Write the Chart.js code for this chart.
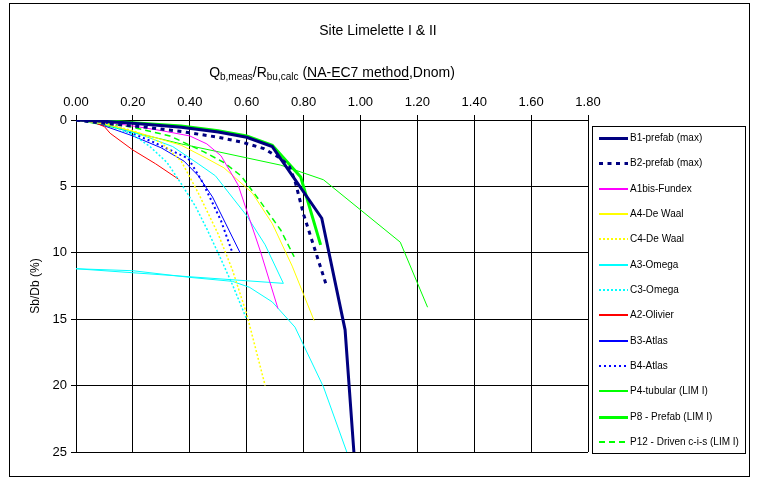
<!DOCTYPE html>
<html>
<head>
<meta charset="utf-8">
<title>Site Limelette I & II</title>
<script src="https://cdn.jsdelivr.net/npm/chart.js@4/dist/chart.umd.min.js"></script>
<style>
body { margin: 0; background: #fff; }
#wrap { width: 757px; height: 479px; }
</style>
</head>
<body>
<div id="wrap"><canvas id="myChart" width="757" height="479"></canvas></div>
<script>
// названия свай (как в легенде)
var pileNames = ['B1-prefab (max)', 'B2-prefab (max)', 'A1bis-Fundex', 'A4-De Waal', 'C4-De Waal',
    'A3-Omega', 'C3-Omega', 'A2-Olivier', 'B3-Atlas', 'B4-Atlas',
    'P4-tubular (LIM I)', 'P8 - Prefab (LIM I)', 'P12 - Driven c-i-s (LIM I)'];

// x = Qb,meas/Rbu,calc , y = Sb/Db (%)
var b1x = [0, 0.1, 0.2, 0.37, 0.5, 0.6, 0.69, 0.864, 0.946, 0.977];
var b1y = [0, 0.1, 0.25, 0.55, 0.9, 1.3, 2.0, 7.4, 15.8, 25];
var b2x = [0, 0.1, 0.25, 0.38, 0.5, 0.58, 0.66, 0.72, 0.75, 0.77, 0.8, 0.878];
var b2y = [0, 0.25, 0.55, 0.9, 1.3, 1.65, 2.15, 2.9, 3.5, 4.6, 7.1, 12.3];
var a1x = [0, 0.1, 0.2, 0.3, 0.4, 0.46, 0.51, 0.57, 0.65, 0.71];
var a1y = [0, 0.15, 0.45, 0.8, 1.2, 1.8, 2.7, 4.9, 10, 14.2];
var a4x = [0, 0.1, 0.21, 0.37, 0.46, 0.52, 0.62, 0.69, 0.76, 0.837];
var a4y = [0, 0.3, 0.9, 1.9, 2.9, 3.6, 5.5, 7.8, 11, 15.1];
var c4x = [0, 0.1, 0.2, 0.3, 0.37, 0.43, 0.5, 0.55, 0.6, 0.665];
var c4y = [0, 0.25, 0.8, 1.7, 3.1, 5.5, 8.6, 11.3, 14.6, 20];
// A3 - разгрузка до нуля и повторное нагружение
var a3x = [0, 0.1, 0.24, 0.34, 0.43, 0.49, 0.6, 0.665, 0.729, 0, 0.2, 0.4, 0.55, 0.61, 0.69, 0.77, 0.87, 0.952];
var a3y = [0, 0.3, 1.2, 2.0, 3.3, 4.2, 7.2, 9.4, 12.3, 11.2, 11.35, 11.85, 12.15, 12.6, 13.7, 15.6, 20.1, 25];
var c3x = [0, 0.1, 0.2, 0.26, 0.32, 0.37, 0.42, 0.46, 0.51, 0.55, 0.6];
var c3y = [0, 0.3, 1.1, 2.0, 3.2, 4.8, 6.5, 8.2, 10.5, 12.4, 15];
var a2x = [0, 0.06, 0.1, 0.12, 0.2, 0.28, 0.36];
var a2y = [0, 0.15, 0.5, 1.0, 2.26, 3.3, 4.45];
var b3x = [0, 0.05, 0.1, 0.2, 0.3, 0.38, 0.43, 0.48, 0.577];
var b3y = [0, 0.1, 0.45, 1.2, 2.1, 3.1, 4.2, 5.8, 10];
var b4x = [0, 0.12, 0.27, 0.395, 0.44, 0.47, 0.51, 0.55];
var b4y = [0, 0.3, 1.65, 2.9, 4.5, 5.8, 7.6, 10];
var p4x = [0, 0.1, 0.37, 0.72, 0.87, 1.14, 1.236];
var p4y = [0, 0.4, 1.8, 3.4, 4.5, 9.2, 14.1];
var p8x = [0, 0.1, 0.2, 0.37, 0.5, 0.6, 0.69, 0.79, 0.86];
var p8y = [0, 0.05, 0.2, 0.45, 0.8, 1.2, 1.9, 4.3, 9.4];
var p12x = [0, 0.1, 0.2, 0.33, 0.45, 0.52, 0.58, 0.65, 0.72, 0.767];
var p12y = [0, 0.2, 0.55, 1.2, 2.4, 3.2, 4.2, 6.2, 8.3, 10.3];

var allX = [b1x, b2x, a1x, a4x, c4x, a3x, c3x, a2x, b3x, b4x, p4x, p8x, p12x];
var allY = [b1y, b2y, a1y, a4y, c4y, a3y, c3y, a2y, b3y, b4y, p4y, p8y, p12y];

// стили линий
var lineColors = ['#000080', '#000080', '#FF00FF', '#FFFF00', '#FFFF00', '#00FFFF', '#00FFFF',
    '#FF0000', '#0000FF', '#0000FF', '#00FF00', '#00FF00', '#00FF00'];
var lineWidths = [3, 3, 1, 1, 1.5, 1, 1.5, 1, 1, 2, 1, 3, 1.5];
var lineDashes = [[], [4, 4.5], [], [], [2, 2], [], [2, 2], [], [], [2, 3], [], [], [6, 4]];

var FONT = "'Liberation Sans', Arial, sans-serif";

function makePoints(xs, ys) {
    var pts = [];
    for (let i = 0; i < xs.length; i++) {
        pts.push({x: xs[i], y: ys[i]});
    }
    return pts;
}

var datasets = [];
for (let i = 0; i < pileNames.length; i++) {
    datasets.push({
        label: pileNames[i],
        data: makePoints(allX[i], allY[i]),
        showLine: true,
        borderColor: lineColors[i],
        backgroundColor: lineColors[i],
        borderWidth: lineWidths[i],
        borderDash: lineDashes[i],
        pointRadius: 0,
        tension: 0
    });
}

// заголовок и подпись оси X (с индексами и подчёркиванием)
var titlesPlugin = {
    id: 'titles',
    afterDraw: function(chart) {
        var ctx = chart.ctx;
        ctx.save();
        ctx.fillStyle = '#000';
        ctx.textBaseline = 'alphabetic';
        ctx.textAlign = 'left';
        ctx.font = '14px ' + FONT;
        var t = 'Site Limelette I & II';
        ctx.fillText(t, 378 - ctx.measureText(t).width / 2, 35);

        var parts = [
            {t: 'Q', s: false}, {t: 'b,meas', s: true}, {t: '/R', s: false}, {t: 'bu,calc', s: true},
            {t: ' (', s: false}, {t: 'NA-EC7 method', s: false, u: true}, {t: ',Dnom)', s: false}
        ];
        var total = 0;
        parts.forEach(function(p) {
            ctx.font = (p.s ? '10px ' : '14px ') + FONT;
            p.w = ctx.measureText(p.t).width;
            total += p.w;
        });
        var cx = (chart.chartArea.left + chart.chartArea.right) / 2;
        var x = cx - total / 2;
        var base = 77;
        parts.forEach(function(p) {
            ctx.font = (p.s ? '10px ' : '14px ') + FONT;
            ctx.fillText(p.t, x, p.s ? base + 3 : base);
            if (p.u) {
                ctx.fillRect(x, base + 2, p.w, 1);
            }
            x += p.w;
        });
        ctx.restore();
    }
};

// легенда в рамке справа + рамка всей диаграммы
var legendPlugin = {
    id: 'boxLegend',
    afterDraw: function(chart) {
        var ctx = chart.ctx;
        ctx.save();
        ctx.strokeStyle = '#000';
        ctx.lineWidth = 1;
        ctx.setLineDash([]);
        ctx.strokeRect(9.5, 3.5, 740, 473);
        ctx.strokeRect(592.5, 126.5, 153, 327);

        ctx.font = '10px ' + FONT;
        ctx.textBaseline = 'middle';
        ctx.textAlign = 'left';
        chart.data.datasets.forEach(function(ds, i) {
            var w = ds.borderWidth >= 3 ? 3 : 2;
            var y = Math.round(138 + i * 25.33) + (w == 3 ? 0.5 : 0);
            ctx.beginPath();
            ctx.strokeStyle = ds.borderColor;
            ctx.lineWidth = w;
            ctx.setLineDash(ds.borderDash);
            ctx.moveTo(599, y);
            ctx.lineTo(628, y);
            ctx.stroke();
            ctx.setLineDash([]);
            ctx.fillStyle = '#000';
            ctx.fillText(ds.label, 630, y);
        });
        ctx.restore();
    }
};

var ctx = document.getElementById('myChart').getContext('2d');
var myChart = new Chart(ctx, {
    type: 'scatter',
    data: { datasets: datasets },
    plugins: [titlesPlugin, legendPlugin],
    options: {
        responsive: false,
        animation: false,
        devicePixelRatio: 1,
        layout: { padding: { left: 28, top: 86, right: 169, bottom: 27 } },
        plugins: {
            legend: { display: false },
            tooltip: { enabled: false }
        },
        scales: {
            x: {
                type: 'linear',
                position: 'top',
                min: 0,
                max: 1.8,
                afterFit: function(scale) { scale.height = 34; },
                ticks: {
                    stepSize: 0.2,
                    color: '#000',
                    padding: 5,
                    maxRotation: 0,
                    font: { family: FONT, size: 13 },
                    callback: function(v) { return v.toFixed(2); }
                },
                grid: { color: '#000', lineWidth: 1, tickLength: 5 },
                border: { color: '#000' }
            },
            y: {
                type: 'linear',
                reverse: true,
                min: 0,
                max: 25,
                afterFit: function(scale) { scale.width = 48; },
                ticks: {
                    stepSize: 5,
                    color: '#000',
                    padding: 4,
                    font: { family: FONT, size: 13 }
                },
                grid: { color: '#000', lineWidth: 1, tickLength: 5 },
                border: { color: '#000' },
                title: {
                    display: true,
                    text: 'Sb/Db (%)',
                    color: '#000',
                    padding: 0,
                    font: { family: FONT, size: 12 }
                }
            }
        }
    }
});
</script>
</body>
</html>
